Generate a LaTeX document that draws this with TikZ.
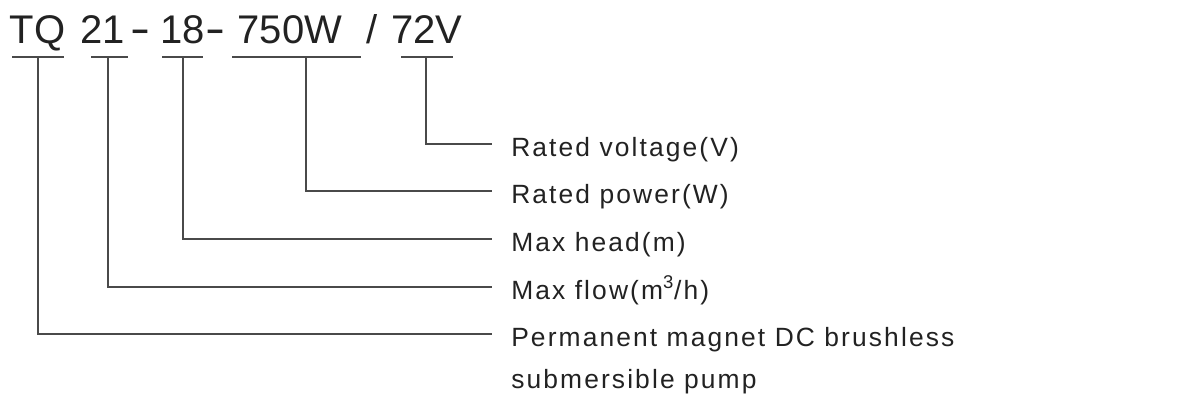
\documentclass[tikz,border=0pt]{standalone}
\usepackage{fontspec}
\setmainfont{Liberation Sans}
\newfontfamily\lblfont[LetterSpace=8]{Liberation Sans}
\definecolor{ink}{HTML}{222222}
\definecolor{wire}{HTML}{4A4A4A}
\begin{document}
\begin{tikzpicture}[x=0.75pt,y=-0.75pt,
	code/.style={anchor=base,inner sep=0pt,font=\fontsize{30}{36}\selectfont,text=ink},
	lbl/.style={anchor=west,inner xsep=14.25pt,inner ysep=0pt,text height=18pt,text depth=0pt,font=\lblfont\fontsize{19.8}{24}\selectfont,text=ink},
	wire/.style={draw=wire,line width=1.1pt}]
		\useasboundingbox (0,0) rectangle (1200,407);
		
		% model code
		\node[code] (tq) at (37.5,43) {TQ};
		\node[code] (flow) at (103,43) {21};
		\node[code] (dasha) at (140,43) {\scalebox{1.5}[1.1]{-}};
		\node[code] (head) at (182.5,43) {18};
		\node[code] (dashb) at (215,43) {\scalebox{1.5}[1.1]{-}};
		\node[code] (power) at (290,43) {750W};
		\node[code] (slash) at (372,43) {/};
		\node[code] (volt) at (427,43) {72V};
		
		% underlines
		\foreach \n/\a/\b/\m in {tq/12/64/38, flow/91/128/108, head/162/203/183, power/232/361/306, volt/401/453/426}{
			\draw[wire] (\a,57) -- (\b,57);
			\coordinate (u\n) at (\m,57);
		}
		
		% labels
		\node[lbl] (lvolt) at (492,144) {Rated voltage(V)};
		\node[lbl] (lpower) at (492,191) {Rated power(W)};
		\node[lbl] (lhead) at (492,239) {Max head(m)};
		\node[lbl] (lflow) at (492,287) {Max flow(m\textsuperscript{3}/h)};
		\node[lbl] (ltq) at (492,334) {Permanent magnet DC brushless};
		\node[lbl,anchor=base west] (ltqb) at (492,388) {submersible pump};
		
		\draw[wire] (uvolt) |- (lvolt.west);
		\draw[wire] (upower) |- (lpower.west);
		\draw[wire] (uhead) |- (lhead.west);
		\draw[wire] (uflow) |- (lflow.west);
		\draw[wire] (utq) |- (ltq.west);
		\end{tikzpicture}
\end{document}
